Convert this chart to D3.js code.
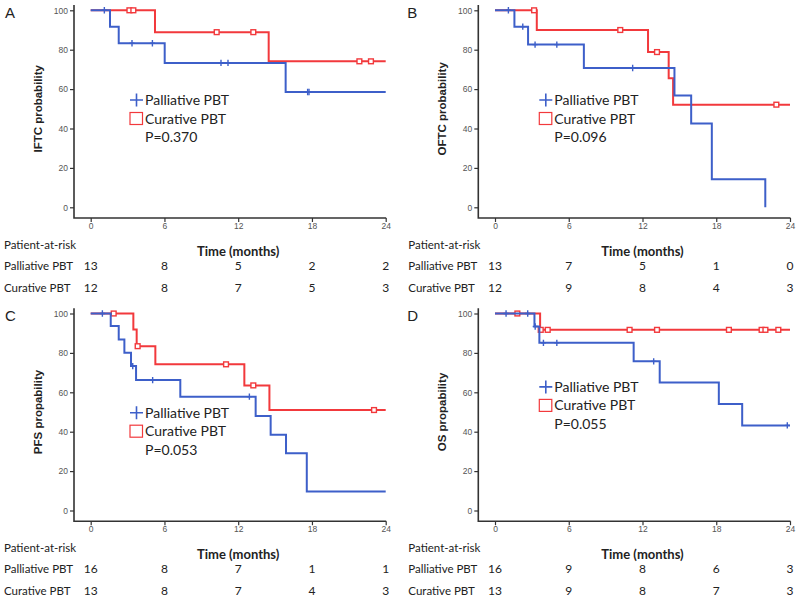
<!DOCTYPE html>
<html>
<head>
<meta charset="utf-8">
<script src="https://cdn.jsdelivr.net/npm/d3@7"></script>
<style>
  body { margin: 0; background: #fff; }
  svg { display: block; }
  .tick text { font-family: 'Liberation Sans', Arial, sans-serif; font-size: 8.5px; fill: #555; }
  .tick line { stroke: #333; stroke-width: 1.2; }
  .cal { font-family: Lato, 'Open Sans', sans-serif; fill: #222; }
</style>
</head>
<body>
<div id="graf"></div>
<script>
// ---- datos (tiempo en meses, probabilidad en %) ----
const ticksX = [0, 6, 12, 18, 24]
const ticksY = [0, 20, 40, 60, 80, 100]

// A: IFTC
const aPallSteps = [[0, 100], [1.57, 91.7], [2.28, 83.3], [6.02, 73.3], [15.86, 58.5]]
const aPallCensor = [1.11, 3.36, 5.02, 10.6, 11.17, 17.65, 17.76]
const aCurSteps = [[0, 100], [5.23, 88.9], [14.48, 74.1]]
const aCurCensor = [3.15, 3.47, 10.25, 13.23, 21.86, 22.8]
const aRiskPall = [13, 8, 5, 2, 2]
const aRiskCur = [12, 8, 7, 5, 3]

// B: OFTC
const bPallSteps = [[0, 100], [1.58, 91.7], [2.69, 82.6], [7.23, 70.7], [14.6, 56.7], [15.96, 42.5], [17.64, 14.2], [21.99, 0]]
const bPallCensor = [1.09, 2.26, 3.26, 5.03, 11.2]
const bCurSteps = [[0, 100], [3.4, 90.0], [12.45, 78.8], [14.13, 65.5], [14.49, 52.1]]
const bCurCensor = [3.18, 10.19, 13.18, 22.89]
const bRiskPall = [13, 7, 5, 1, 0]
const bRiskCur = [12, 9, 8, 4, 3]

// C: PFS
const cPallSteps = [[0, 100], [1.63, 93.6], [2.28, 86.8], [2.74, 80.1], [3.28, 73.3], [3.69, 66.2], [7.29, 57.8], [13.42, 48.0], [14.64, 38.5], [15.89, 29.1], [17.58, 9.6]]
const cPallCensor = [0.95, 3.42, 5.04, 12.91]
const cCurSteps = [[0, 100], [3.47, 91.9], [3.74, 83.4], [5.26, 74.2], [12.5, 63.5], [14.54, 51.0]]
const cCurCensor = [1.87, 3.82, 11.01, 13.23, 23.05]
const cRiskPall = [16, 8, 7, 1, 1]
const cRiskCur = [13, 8, 7, 4, 3]

// D: OS
const dPallSteps = [[0, 100], [3.21, 93.4], [3.61, 85.1], [11.28, 75.7], [13.4, 65.0], [18.21, 54.1], [20.11, 43.2]]
const dPallCensor = [0.9, 2.66, 3.27, 3.94, 5.03, 12.91, 23.78]
const dCurSteps = [[0, 100], [3.67, 91.7]]
const dCurCensor = [1.82, 3.72, 4.29, 10.95, 13.18, 19.03, 21.69, 22.0, 23.05]
const dRiskPall = [16, 9, 8, 6, 3]
const dRiskCur = [13, 9, 8, 7, 3]

const paneles = [
  { letra: 'A', ox: 0, oy: 0, ylab: 'IFTC probability', p: 'P=0.370', lx: 145, ly: 100,
    pall: aPallSteps, pallEnd: 24, pallC: aPallCensor, cur: aCurSteps, curEnd: 24, curC: aCurCensor, rP: aRiskPall, rC: aRiskCur },
  { letra: 'B', ox: 404.3, oy: 0, ylab: 'OFTC probability', p: 'P=0.096', lx: 150, ly: 100,
    pall: bPallSteps, pallEnd: 21.99, pallC: bPallCensor, cur: bCurSteps, curEnd: 24, curC: bCurCensor, rP: bRiskPall, rC: bRiskCur },
  { letra: 'C', ox: 0, oy: 303.2, ylab: 'PFS propability', p: 'P=0.053', lx: 145, ly: 109.5,
    pall: cPallSteps, pallEnd: 24, pallC: cPallCensor, cur: cCurSteps, curEnd: 24, curC: cCurCensor, rP: cRiskPall, rC: cRiskCur },
  { letra: 'D', ox: 404.3, oy: 303.2, ylab: 'OS propability', p: 'P=0.055', lx: 150, ly: 83.7,
    pall: dPallSteps, pallEnd: 24, pallC: dPallCensor, cur: dCurSteps, curEnd: 24, curC: dCurCensor, rP: dRiskPall, rC: dRiskCur },
]

const azul = '#3d5fc9'
const rojo = '#f2393c'

const svg = d3.select('#graf').append('svg').attr('width', 800).attr('height', 601)

function valorEn(steps, t) {
  let v = steps[0][1]
  steps.forEach((s) => { if (s[0] <= t) v = s[1] })
  return v
}

function panel(cfg) {
  const g = svg.append('g').attr('transform', `translate(${cfg.ox}, ${cfg.oy})`)
  const ejeX = 74, ejeY = 218
  const x = d3.scaleLinear().domain([0, 24]).range([90.7, 385.7])
  const y = d3.scaleLinear().domain([0, 100]).range([207.3, 10.3])

  // ejes
  g.append('g')
    .attr('transform', `translate(${ejeX}, 0)`)
    .call(d3.axisLeft(y).tickValues(ticksY).tickSize(4).tickPadding(2))
    .call((s) => s.select('.domain').remove())
  g.append('g')
    .attr('transform', `translate(0, ${ejeY})`)
    .call(d3.axisBottom(x).tickValues(ticksX).tickSize(4).tickPadding(1))
    .call((s) => s.select('.domain').remove())
  g.append('path')
    .attr('d', `M${ejeX},5V${ejeY}H${x(24) + 0.5}`)
    .attr('fill', 'none').attr('stroke', '#333').attr('stroke-width', 1.6)

  // curvas
  const linea = d3.line().x((d) => x(d[0])).y((d) => y(d[1])).curve(d3.curveStepAfter)
  const serie = (steps, fin, cens, color, tipo) => {
    const pts = steps.concat([[fin, steps[steps.length - 1][1]]])
    g.append('path').attr('d', linea(pts))
      .attr('fill', 'none').attr('stroke', color).attr('stroke-width', 2)
    cens.forEach((t) => {
      const cx = x(t), cy = y(valorEn(steps, t))
      if (tipo === 'plus') {
        g.append('path').attr('d', `M${cx},${cy - 3.2}V${cy + 3.2}M${cx - 2.5},${cy}H${cx + 2.5}`)
          .attr('stroke', color).attr('stroke-width', 1.4)
      } else {
        g.append('rect').attr('x', cx - 2.4).attr('y', cy - 2.4).attr('width', 4.8).attr('height', 4.8)
          .attr('fill', '#fff').attr('stroke', color).attr('stroke-width', 1.4)
      }
    })
  }
  serie(cfg.cur, cfg.curEnd, cfg.curC, rojo, 'sq')
  serie(cfg.pall, cfg.pallEnd, cfg.pallC, azul, 'plus')

  // leyenda
  const lx = cfg.lx, ly = cfg.ly
  g.append('path').attr('d', `M${lx - 15},${ly}H${lx - 2}M${lx - 8.5},${ly - 6.5}V${ly + 6.5}`)
    .attr('stroke', azul).attr('stroke-width', 1.6)
  g.append('rect').attr('x', lx - 15).attr('y', ly + 12.5).attr('width', 12.5).attr('height', 12)
    .attr('fill', '#fff').attr('stroke', rojo).attr('stroke-width', 1.2)
  const leg = [['Palliative PBT', 0], ['Curative PBT', 18.6], [cfg.p, 37]]
  leg.forEach((l) => {
    g.append('text').attr('class', 'cal').attr('x', lx).attr('y', ly + l[1])
      .attr('dy', '0.35em').style('font-size', '14px').text(l[0])
  })

  // etiquetas
  g.append('text')
    .attr('transform', `translate(38, 108.8) rotate(-90)`)
    .attr('text-anchor', 'middle').attr('dy', '0.35em')
    .style('font-family', "'Liberation Sans', Arial, sans-serif")
    .style('font-weight', 'bold').style('font-size', '11.5px').attr('fill', '#222')
    .text(cfg.ylab)
  g.append('text').attr('x', cfg.ox > 0 ? 3 : 5).attr('y', 18)
    .style('font-family', "'Liberation Sans', Arial, sans-serif").style('font-size', '15px').attr('fill', '#222')
    .text(cfg.letra)

  // tabla de riesgo
  g.append('text').attr('class', 'cal').attr('x', cfg.ox > 0 ? 4 : 4).attr('y', ejeY + 26.5)
    .attr('dy', '0.35em').style('font-size', '11.5px').text('Patient-at-risk')
  g.append('text').attr('class', 'cal').attr('x', x(12)).attr('y', ejeY + 33)
    .attr('text-anchor', 'middle').attr('dy', '0.35em')
    .style('font-size', '13px').style('font-weight', 'bold').text('Time (months)')
  const filas = [['Palliative PBT', cfg.rP, 48], ['Curative PBT', cfg.rC, 69.5]]
  filas.forEach((f) => {
    g.append('text').attr('class', 'cal').attr('x', 4).attr('y', ejeY + f[2])
      .attr('dy', '0.35em').style('font-size', '11.5px').text(f[0])
    g.selectAll(null).data(f[1]).enter().append('text').attr('class', 'cal')
      .attr('x', (d, i) => x(ticksX[i])).attr('y', ejeY + f[2])
      .attr('text-anchor', 'middle').attr('dy', '0.35em').style('font-size', '12px')
      .text((d) => d)
  })
}

paneles.forEach(panel)
</script>
</body>
</html>
